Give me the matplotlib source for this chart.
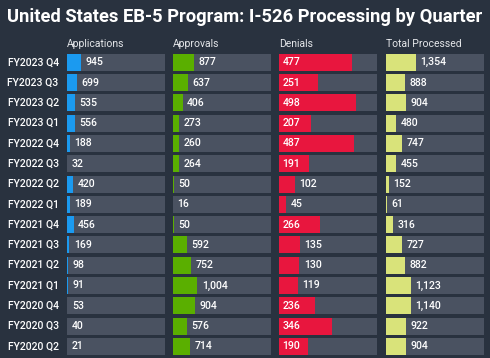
import matplotlib
matplotlib.use("Agg")
import matplotlib.pyplot as plt

quarters = ["FY2023 Q4", "FY2023 Q3", "FY2023 Q2", "FY2023 Q1", "FY2022 Q4",
            "FY2022 Q3", "FY2022 Q2", "FY2022 Q1", "FY2021 Q4", "FY2021 Q3",
            "FY2021 Q2", "FY2021 Q1", "FY2020 Q4", "FY2020 Q3", "FY2020 Q2"]
applications = [945, 699, 535, 556, 188, 32, 420, 189, 456, 169, 98, 91, 53, 40, 21]
approvals = [877, 637, 406, 273, 260, 264, 50, 16, 50, 592, 752, 1004, 904, 576, 714]
denials = [477, 251, 498, 207, 487, 191, 102, 45, 266, 135, 130, 119, 236, 346, 190]
total_processed = [1354, 888, 904, 480, 747, 455, 152, 61, 316, 727, 882, 1123, 1140, 922, 904]

column_titles = ["Applications", "Approvals", "Denials", "Total Processed"]
series = [applications, approvals, denials, total_processed]
scale_max = [6500, 4000, 640, 4400]
colors = ["#1b9af0", "#5aaf00", "#e8163e", "#d9e37a"]

BG = "#29323f"
TRACK = "#4a5261"
W, H = 490, 358

plt.rcParams['font.family'] = ['Roboto', 'DejaVu Sans']
fig = plt.figure(figsize=(W / 100, H / 100), dpi=100)
fig.patch.set_facecolor(BG)

lefts = [66.7, 172.7, 279.3, 385.7]
col_w = 98.0
n = len(quarters)
row_h = 20.29
top_px = 62.3 - row_h / 2
bot_px = top_px + row_h * n

fig.text(245 / W, 1 - 17 / H, "United States EB-5 Program: I-526 Processing by Quarter",
         ha="center", va="center", color="white", fontsize=13.2, fontweight="bold")

fig.canvas.draw()
renderer = fig.canvas.get_renderer()

for ci, (title, vals, mx, colr) in enumerate(zip(column_titles, series, scale_max, colors)):
    ax = fig.add_axes([lefts[ci] / W, 1 - bot_px / H, col_w / W, (bot_px - top_px) / H])
    ax.set_facecolor("none")
    ax.set_xlim(0, mx)
    ax.set_ylim(n - 0.5, -0.5)
    ax.axis("off")
    ys = list(range(n))
    ax.barh(ys, [mx] * n, height=0.84, color=TRACK, left=0)
    ax.barh(ys, vals, height=0.84, color=colr)
    fig.text(lefts[ci] / W, 1 - 44 / H, title, ha="left", va="center",
             color="#e6e8eb", fontsize=7.5)
    px_per_unit = col_w / mx
    for i, v in enumerate(vals):
        lab = f"{v:,}"
        t = ax.text(0, i, lab, fontsize=7.6, color="white", va="center", ha="left",
                    fontweight="medium")
        tw = t.get_window_extent(renderer=renderer).width
        bw = v * px_per_unit
        if bw >= tw + 8:
            t.set_x(3.2 / px_per_unit)
        else:
            t.set_x(v + 4.5 / px_per_unit)
    if ci == 0:
        for i, q in enumerate(quarters):
            ax.annotate(q, xy=(0, i), xycoords=ax.get_yaxis_transform(),
                        xytext=(-8, 0), textcoords="offset pixels",
                        ha="right", va="center", color="white", fontsize=7.5,
                        fontweight="medium")

fig.savefig("out.png", dpi=100, facecolor=BG)
